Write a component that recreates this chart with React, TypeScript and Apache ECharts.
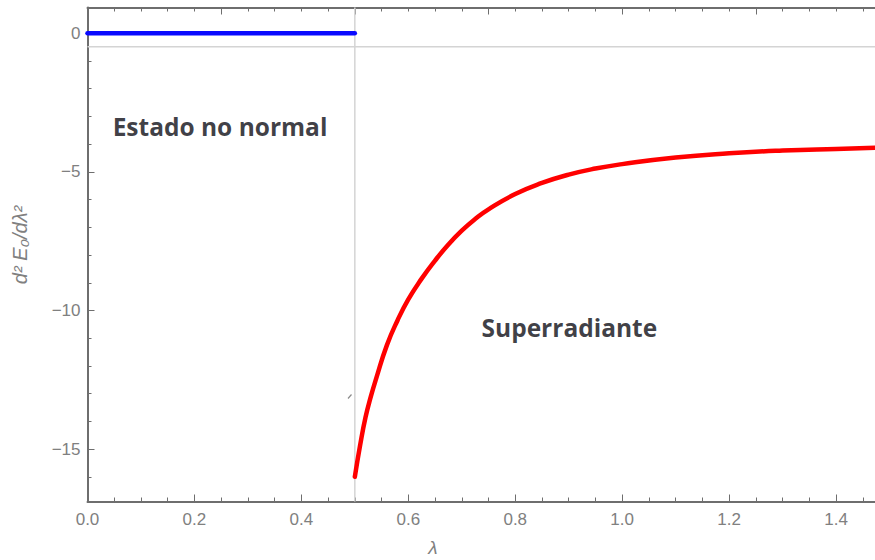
import React, { useEffect, useRef } from "react";
import * as echarts from "echarts";

// Data
const lambdaValues = [0.5, 0.51, 0.52, 0.53, 0.54, 0.56, 0.58, 0.6, 0.625, 0.65, 0.675, 0.7, 0.725, 0.75, 0.8, 0.85, 0.9, 0.95, 1.0, 1.1, 1.2, 1.3, 1.4, 1.5];
const superradiantValues = [-16.0, -14.85, -13.85, -13.1, -12.45, -11.25, -10.35, -9.6, -8.85, -8.2, -7.62, -7.12, -6.7, -6.35, -5.8, -5.4, -5.1, -4.88, -4.72, -4.48, -4.33, -4.23, -4.17, -4.12];
const normalLambda = [0, 0.5];
const normalValues = [0, 0];
const yMajorTicks = [0, -5, -10, -15];
const yMinorTicks = [0, -1, -2, -3, -4, -5, -6, -7, -8, -9, -10, -11, -12, -13, -14, -15, -16];
const xMin = 0;
const xMax = 1.5;
const yMin = -16.89;
const yMax = 0.93;
const refLambda = 0.5;
const refY = -0.49;
const annotations = [
  { text: "Estado no normal", lambda: 0.047, y: -3.35 },
  { text: "Superradiante", lambda: 0.737, y: -10.6 },
];

const FRAME = "#6e6e6e";
const LABEL = "#808080";
const FONT = "'Liberation Sans', Arial, sans-serif";

export default function App() {
  const ref = useRef<HTMLDivElement>(null);
  useEffect(() => {
    if (!ref.current) return;
    const chart = echarts.init(ref.current, undefined, { renderer: "svg" });
    const option: any = {
      animation: false,
      backgroundColor: "#ffffff",
      grid: {
        left: 87.5,
        top: 7.5,
        width: 802,
        height: 494,
        containLabel: false,
        outerBoundsMode: "none",
      },
      xAxis: [
        {
          type: "value",
          position: "bottom",
          min: xMin,
          max: xMax,
          interval: 0.2,
          axisLine: { show: true, onZero: false, lineStyle: { color: FRAME, width: 2 } },
          axisTick: { show: true, inside: true, length: 7, lineStyle: { color: FRAME, width: 1 } },
          minorTick: { show: true, splitNumber: 4, length: 4, lineStyle: { color: FRAME, width: 1 } },
          splitLine: { show: false },
          axisLabel: {
            show: true,
            margin: 9,
            color: LABEL,
            fontSize: 17,
            fontFamily: FONT,
            showMaxLabel: false,
            formatter: (v: number) => v.toFixed(1),
          },
        },
        {
          type: "value",
          position: "top",
          min: xMin,
          max: xMax,
          interval: 0.25,
          axisLine: { show: true, onZero: false, lineStyle: { color: FRAME, width: 2 } },
          axisTick: { show: true, inside: true, length: 7, lineStyle: { color: FRAME, width: 1 } },
          minorTick: { show: true, splitNumber: 5, length: 4, lineStyle: { color: FRAME, width: 1 } },
          splitLine: { show: false },
          axisLabel: { show: false },
        },
      ],
      yAxis: [
        {
          type: "value",
          position: "left",
          min: yMin,
          max: yMax,
          axisLine: { show: true, onZero: false, lineStyle: { color: FRAME, width: 2 } },
          axisTick: { show: true, inside: true, length: 7, customValues: yMajorTicks, lineStyle: { color: FRAME, width: 1 } },
          splitLine: { show: false },
          axisLabel: {
            show: true,
            margin: 7,
            color: LABEL,
            fontSize: 17,
            fontFamily: FONT,
            customValues: yMajorTicks,
            formatter: (v: number) => (v < 0 ? "\u2212" + Math.abs(v) : String(v)),
          },
        },
        {
          type: "value",
          position: "left",
          offset: 0,
          min: yMin,
          max: yMax,
          axisLine: { show: false },
          axisTick: { show: true, inside: true, length: 4, customValues: yMinorTicks, lineStyle: { color: FRAME, width: 1 } },
          splitLine: { show: false },
          axisLabel: { show: false },
        },
      ],
      series: [
        {
          type: "line",
          name: "refV",
          data: [[refLambda, yMax], [refLambda, yMin]],
          symbol: "none",
          silent: true,
          z: 1,
          lineStyle: { color: "#d4d4d4", width: 1.5 },
        },
        {
          type: "line",
          name: "refH",
          data: [[xMin, refY], [xMax, refY]],
          symbol: "none",
          silent: true,
          z: 1,
          lineStyle: { color: "#d4d4d4", width: 1.5 },
        },
        {
          type: "line",
          name: "normal",
          data: normalLambda.map((x, i) => [x, normalValues[i]]),
          symbol: "none",
          z: 3,
          lineStyle: { color: "#0a0aff", width: 4.5, cap: "round" },
        },
        {
          type: "line",
          name: "superradiant",
          data: lambdaValues.map((x, i) => [x, superradiantValues[i]]),
          symbol: "none",
          smooth: 0.5,
          z: 3,
          lineStyle: { color: "#ff0000", width: 4.5, cap: "round" },
        },
        {
          type: "scatter",
          name: "labels",
          data: annotations.map((a) => [a.lambda, a.y]),
          symbolSize: 0,
          silent: true,
          label: {
            show: true,
            position: "inside",
            align: "left",
            verticalAlign: "middle",
            formatter: (p: any) => annotations[p.dataIndex].text,
            color: "#0d0d14",
            fontSize: 24.5,
            fontWeight: "bold",
            fontFamily: "'Open Sans', 'Noto Sans', sans-serif",
          },
        },
      ],
      graphic: [
        {
          type: "text",
          x: 20,
          y: 245,
          rotation: Math.PI / 2,
          style: {
            text: "d\u00B2 E\u2080/d\u03BB\u00B2",
            fill: LABEL,
            fontSize: 20,
            fontStyle: "italic",
            fontFamily: FONT,
            align: "center",
            verticalAlign: "middle",
          },
        },
        {
          type: "text",
          x: 433,
          y: 547,
          style: {
            text: "\u03BB",
            fill: LABEL,
            fontSize: 19,
            fontStyle: "italic",
            fontFamily: FONT,
            align: "center",
            verticalAlign: "middle",
          },
        },
        {
          type: "line",
          shape: { x1: 348, y1: 398.5, x2: 351.5, y2: 394.5 },
          style: { stroke: "#8a8a8a", lineWidth: 1.2 },
        },
      ],
    };
    chart.setOption(option);
    return () => chart.dispose();
  }, []);
  return (
    <div
      ref={ref}
      style={{ position: "fixed", left: 0, top: 0, width: 875, height: 560 }}
    />
  );
}
